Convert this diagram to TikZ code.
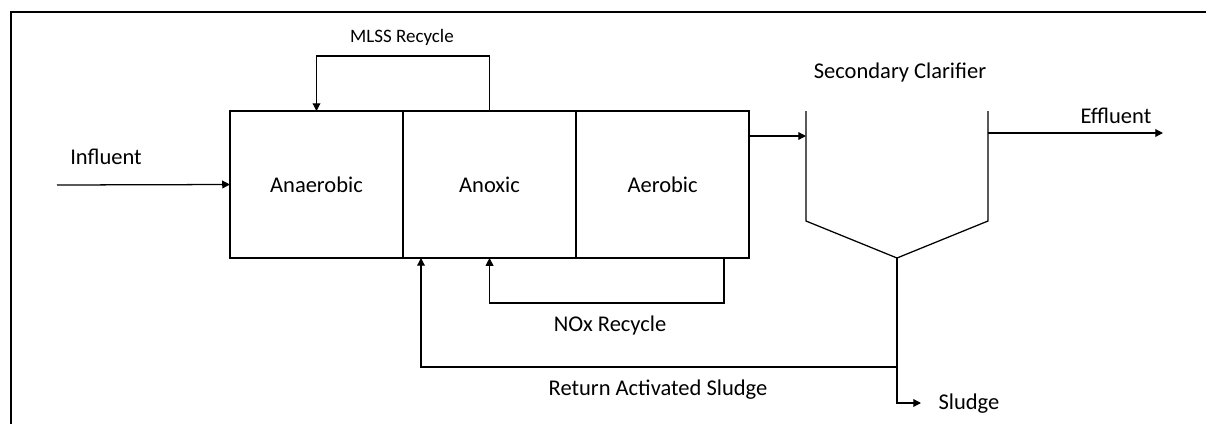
\documentclass[tikz,border=0pt]{standalone}
\usepackage{fontspec}
\setmainfont{Carlito}
\usetikzlibrary{arrows.meta,positioning}

\begin{document}
\begin{tikzpicture}[x=0.025cm,y=-0.025cm,>={Triangle[length=5.5pt,width=5.5pt]},line width=0.9pt,
  tank/.style={draw,minimum width=4.325cm,minimum height=3.675cm,inner sep=0pt,outer sep=0pt,font=\fontsize{16}{19}\selectfont},
  lbl/.style={font=\fontsize{16}{19}\selectfont,inner sep=0pt},
  smalllbl/.style={font=\fontsize{13.5}{16}\selectfont,inner sep=0pt}]
  \useasboundingbox (0,0) rectangle (1206,424);
  \draw[line width=1.8pt] (11,424) -- (11,12) -- (1206,12);
  % reactor basins
  \node[tank] (anaerobic) at (316.5,184.5) {Anaerobic};
  \node[tank,right=0pt of anaerobic] (anoxic) {Anoxic};
  \node[tank,right=0pt of anoxic] (aerobic) {Aerobic};
  % clarifier
  \coordinate (cl1) at (806,111);
  \coordinate (cl2) at (806,221);
  \coordinate (cbot) at (897,258);
  \coordinate (cr2) at (988,221);
  \coordinate (cr1) at (988,111);
  \draw (cl1) -- (cl2) -- (cbot) -- (cr2) -- (cr1);
  \node[lbl] (clarifier) at (900,72) {Secondary Clarifier};
  % flows
  \coordinate (in) at (57,185);
  \coordinate (feed) at (806,136);
  \coordinate (eff) at (1163,133);
  \coordinate (noxout) at (724,258);
  \coordinate (rasin) at (421,258);
  \coordinate (ras) at (897,367);
  \coordinate (sludgeend) at (921,403);
  \draw[->] (in) -- (anaerobic.west);
  \node[lbl] (influent) at (106,157) {Influent};
  \draw[->] (anoxic.north) -- ++(0,-55) -| (anaerobic.north);
  \node[smalllbl] (mlss) at (402,37) {MLSS Recycle};
  \draw[->] (aerobic.east |- feed) -- (feed);
  \draw[->] (cr1 |- eff) -- (eff);
  \node[lbl] (effluent) at (1116,116) {Effluent};
  \draw[->] (noxout) -- ++(0,45) -| (anoxic.south);
  \node[lbl] (nox) at (610,325) {NOx Recycle};
  \draw (cbot) -- (ras);
  \draw[->] (ras) -| (rasin);
  \node[lbl] (rasl) at (658,390) {Return Activated Sludge};
  \draw[->] (ras) |- (sludgeend);
  \node[lbl,anchor=west] (sludge) at (938,404) {Sludge};
\end{tikzpicture}
\end{document}
